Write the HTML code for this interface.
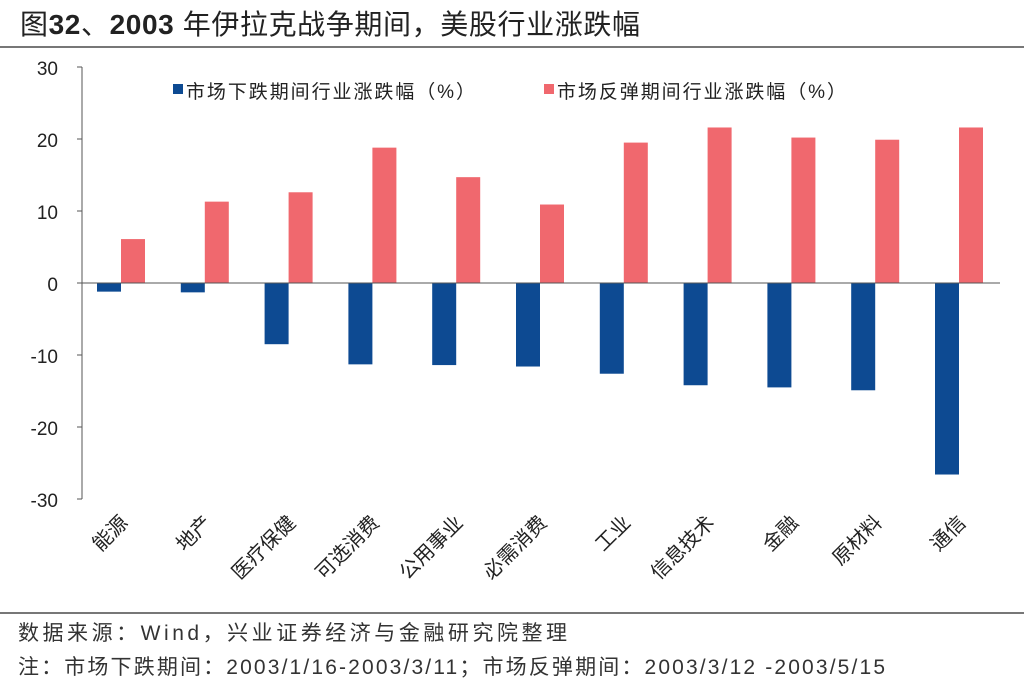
<!DOCTYPE html>
<html><head><meta charset="utf-8"><style>
body{margin:0;background:#fff;}
svg text{font-family:"Liberation Sans","Noto Sans CJK SC",sans-serif;}
</style></head><body>
<svg width="1024" height="688" viewBox="0 0 1024 688" xmlns="http://www.w3.org/2000/svg">
<text x="20" y="34" font-size="28" fill="#222" textLength="620" lengthAdjust="spacing">图<tspan font-weight="bold">32</tspan>、<tspan font-weight="bold">2003</tspan> 年伊拉克战争期间，美股行业涨跌幅</text>
<line x1="0" y1="47" x2="1024" y2="47" stroke="#777" stroke-width="2"/>
<g font-size="19" fill="#222" text-anchor="end">
<text x="58" y="75">30</text><text x="58" y="147">20</text><text x="58" y="219">10</text>
<text x="58" y="291">0</text><text x="58" y="363">-10</text><text x="58" y="435">-20</text><text x="58" y="507">-30</text>
</g>
<g stroke="#555" stroke-width="1">
<line x1="82" y1="67" x2="82" y2="499"/>
<line x1="77" y1="67" x2="82" y2="67"/><line x1="77" y1="139" x2="82" y2="139"/><line x1="77" y1="211" x2="82" y2="211"/>
<line x1="77" y1="283" x2="82" y2="283"/><line x1="77" y1="355" x2="82" y2="355"/><line x1="77" y1="427" x2="82" y2="427"/><line x1="77" y1="499" x2="82" y2="499"/>
</g>
<rect x="173" y="84" width="10" height="10" fill="#0d4a92"/>
<text x="186" y="98" font-size="19" fill="#222" textLength="289" lengthAdjust="spacing">市场下跌期间行业涨跌幅（%）</text>
<rect x="544" y="84" width="10" height="10" fill="#f0686e"/>
<text x="557" y="98" font-size="19" fill="#222" textLength="289" lengthAdjust="spacing">市场反弹期间行业涨跌幅（%）</text>
<g id="bars"></g>
<line x1="82" y1="283" x2="1000" y2="283" stroke="#555" stroke-width="1"/>
<g id="labels" font-size="20" fill="#222"></g>
<line x1="0" y1="613" x2="1024" y2="613" stroke="#777" stroke-width="2"/>
<text x="18" y="640" font-size="21" fill="#333" textLength="549" lengthAdjust="spacing">数据来源：Wind，兴业证券经济与金融研究院整理</text>
<text x="18" y="674" font-size="21" fill="#333" textLength="867" lengthAdjust="spacing">注：市场下跌期间：2003/1/16-2003/3/11；市场反弹期间：2003/3/12 -2003/5/15</text>
</svg>
<script>
var cats=["能源","地产","医疗保健","可选消费","公用事业","必需消费","工业","信息技术","金融","原材料","通信"];
var b=[-1.2,-1.3,-8.5,-11.3,-11.4,-11.6,-12.6,-14.2,-14.5,-14.9,-26.6];
var r=[6.1,11.3,12.6,18.8,14.7,10.9,19.5,21.6,20.2,19.9,21.6];
var ns="http://www.w3.org/2000/svg",g=document.getElementById("bars"),L=document.getElementById("labels");
function rect(x,y,w,h,c){var e=document.createElementNS(ns,"rect");e.setAttribute("x",x);e.setAttribute("y",y);e.setAttribute("width",w);e.setAttribute("height",h);e.setAttribute("fill",c);g.appendChild(e);}
for(var i=0;i<11;i++){var x=97+i*83.8;
rect(x,283,24,-b[i]*7.2,"#0d4a92");
rect(x+24,283-r[i]*7.2,24,r[i]*7.2,"#f0686e");
var t=document.createElementNS(ns,"text");var cx=x+32,cy=524;
t.setAttribute("x",cx);t.setAttribute("y",cy);t.setAttribute("text-anchor","end");
t.setAttribute("transform","rotate(-45 "+cx+" "+cy+")");t.textContent=cats[i];L.appendChild(t);}
</script>
</body></html>
